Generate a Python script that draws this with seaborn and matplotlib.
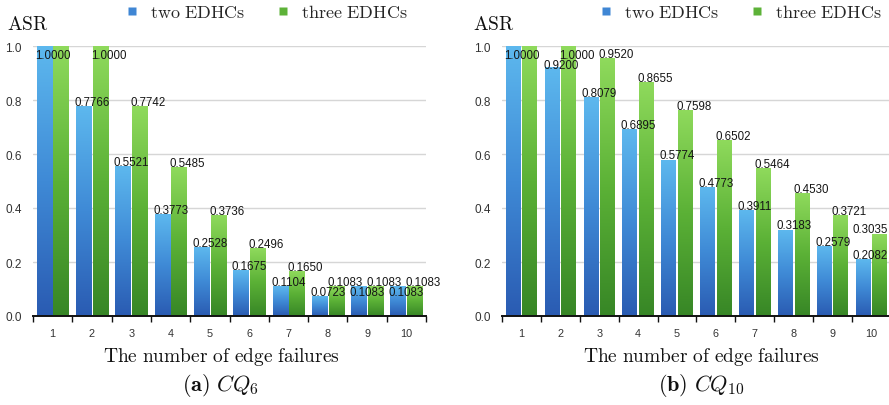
import numpy as np
import pandas as pd
import matplotlib
matplotlib.use("Agg")
import matplotlib.pyplot as plt
from matplotlib.colors import LinearSegmentedColormap
from matplotlib.lines import Line2D
from matplotlib.ticker import FixedLocator
from matplotlib.transforms import offset_copy
import seaborn as sns

# ---- data -------------------------------------------------------------
failures = [1, 2, 3, 4, 5, 6, 7, 8, 9, 10]
series_names = ["two EDHCs", "three EDHCs"]

cq6_two = [1.0000, 0.7766, 0.5521, 0.3773, 0.2528, 0.1675, 0.1104, 0.0723, 0.1083, 0.1083]
cq6_three = [1.0000, 1.0000, 0.7742, 0.5485, 0.3736, 0.2496, 0.1650, 0.1083, 0.1083, 0.1083]

cq10_two = [1.0000, 0.9200, 0.8079, 0.6895, 0.5774, 0.4773, 0.3911, 0.3183, 0.2579, 0.2082]
cq10_three = [1.0000, 1.0000, 0.9520, 0.8655, 0.7598, 0.6502, 0.5464, 0.4530, 0.3721, 0.3035]

y_ticks = [0.0, 0.2, 0.4, 0.6, 0.8, 1.0]

# ---- style ------------------------------------------------------------
sns.set_theme(style="white")
plt.rcParams["font.family"] = ["Liberation Sans", "DejaVu Sans"]
plt.rcParams["mathtext.fontset"] = "cm"

BLUE_MAP = LinearSegmentedColormap.from_list("blue_bar", ["#2a5bb2", "#3f8ad6", "#5db8ee"])
GREEN_MAP = LinearSegmentedColormap.from_list("green_bar", ["#378626", "#5bb136", "#8fda5c"])
LEGEND_COLORS = ["#3f86d4", "#5db238"]

W, H = 889, 406
fig = plt.figure(figsize=(W / 100, H / 100), dpi=100)
value_texts = []


def px_axes(x0, x1, ytop, ybot):
    return fig.add_axes([x0 / W, 1 - ybot / H, (x1 - x0) / W, (ybot - ytop) / H])


def draw_panel(ax, two, three, caption, x_center, legend_center, asr_x):
    df = pd.DataFrame({
        "failures": failures * 2,
        "ASR": two + three,
        "scheme": [series_names[0]] * len(two) + [series_names[1]] * len(three),
    })
    sns.barplot(data=df, x="failures", y="ASR", hue="scheme", hue_order=series_names,
                palette=LEGEND_COLORS, width=0.85, gap=0.1, saturation=1,
                errorbar=None, legend=False, ax=ax)

    # repaint each bar with a vertical gradient
    bars = {}
    grad = np.linspace(0, 1, 256).reshape(-1, 1)
    for p in list(ax.patches):
        x, w, h = p.get_x(), p.get_width(), p.get_height()
        cat = int(round(x + w / 2))
        s = 0 if (x + w / 2) < cat else 1
        bars[(cat, s)] = (x, w, h)
        ax.imshow(grad, extent=[x, x + w, 0, h], origin="lower", aspect="auto",
                  cmap=BLUE_MAP if s == 0 else GREEN_MAP, zorder=2, interpolation="bilinear")
        p.set_facecolor("none")
        p.set_edgecolor("none")

    ax.set_xlim(-0.5, len(failures) - 0.5)
    ax.set_ylim(0, 1)

    # value labels: above the bar, or tucked under the top edge when there is no room
    lab_h = 0.036
    for cat in range(len(failures)):
        placed = []
        for s in (1, 0):
            x, w, h = bars[(cat, s)]
            at_top = h + 0.006 + 0.03 > 0.99
            base = 0.955 if at_top else h + 0.006
            clash = [b for b in placed if abs(b[0] - base) < lab_h]
            if clash:
                if at_top and clash[0][1]:
                    # both bars fill the axis: a single label covers the pair
                    placed = [(base, True, x, h)]
                    continue
                base = clash[0][0] - lab_h - 0.001
            placed.append((base, at_top, x, h))
        for base, _, x, h in placed:
            t = ax.text(x - 0.04, base, f"{h:.4f}", ha="left", va="baseline",
                        fontsize=8.3, color="#161616", zorder=5, clip_on=False)
            value_texts.append(t)

    # axes furniture
    ax.yaxis.grid(True, color="#d6d6d6", lw=1.0)
    ax.set_axisbelow(True)
    for side in ("left", "top", "right"):
        ax.spines[side].set_visible(False)
    ax.spines["bottom"].set_color("#111111")
    ax.spines["bottom"].set_linewidth(1.4)
    ax.set_yticks(y_ticks)
    ax.set_yticklabels([f"{v:.1f}" for v in y_ticks])
    ax.tick_params(axis="y", length=0, pad=8, labelsize=8.5, labelcolor="#333333")
    ax.set_xticks(range(len(failures)))
    ax.set_xticklabels([str(f) for f in failures])
    ax.xaxis.set_minor_locator(FixedLocator(np.arange(-0.5, len(failures), 1.0)))
    ax.tick_params(axis="x", which="major", length=0, pad=9, labelsize=7.8, labelcolor="#333333")
    ax.tick_params(axis="x", which="minor", bottom=True, length=4, width=1.0, color="#111111",
                   direction="out")
    ax.set_xlabel("")
    ax.set_ylabel("")

    fig.text(x_center / W, 1 - 357 / H, r"$\mathrm{The\ number\ of\ edge\ failures}$",
             ha="center", va="center", fontsize=14, color="#111111")
    fig.text(x_center / W, 1 - 386 / H, caption, ha="center", va="center",
             fontsize=16, color="#111111")
    fig.text(asr_x / W, 1 - 25 / H, r"$\mathrm{ASR}$", ha="left", va="center",
             fontsize=14, color="#111111")

    handles = [Line2D([], [], ls="none", marker="s", markersize=6, markerfacecolor=c,
                      markeredgecolor="none") for c in LEGEND_COLORS]
    ax.legend(handles, [rf"$\mathrm{{{n.replace(' ', chr(92) + ' ')}}}$" for n in series_names],
              loc="center", bbox_to_anchor=(legend_center / W, 1 - 14 / H),
              bbox_transform=fig.transFigure, ncol=2, frameon=False, fontsize=13,
              handlelength=0.6, handletextpad=0.7, columnspacing=1.8, borderpad=0)


ax_a = px_axes(33, 426, 47, 317)
ax_b = px_axes(502, 891, 47, 317)

draw_panel(ax_a, cq6_two, cq6_three, r"$\mathbf{(a)}\ CQ_6$", 221, 267, 7)
draw_panel(ax_b, cq10_two, cq10_three, r"$\mathbf{(b)}\ CQ_{10}$", 701, 741, 473)

# keep value labels inside the figure: nudge any that run past the right edge
fig.canvas.draw()
renderer = fig.canvas.get_renderer()
for t in value_texts:
    bb = t.get_window_extent(renderer)
    over = bb.x1 - (W - 1)
    if over > 0:
        t.set_transform(offset_copy(t.get_transform(), fig=fig, x=-over, units="dots"))

fig.savefig("out.png", dpi=100)
